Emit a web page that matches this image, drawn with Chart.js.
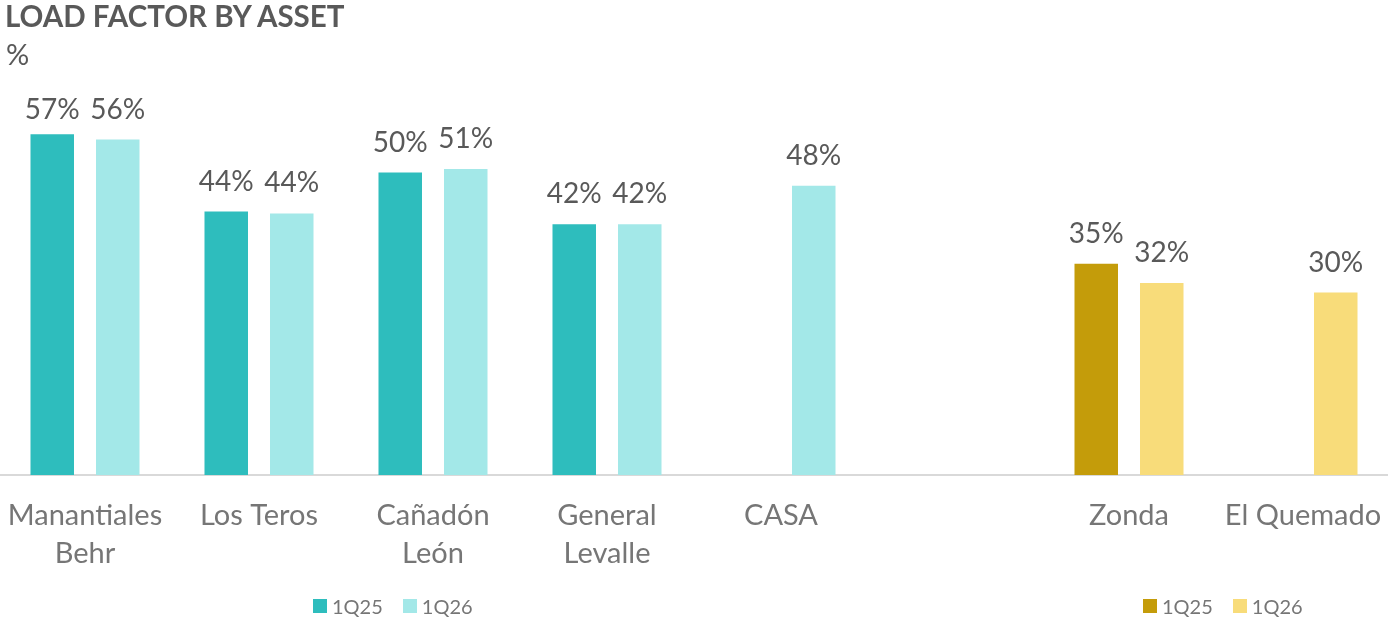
<!DOCTYPE html>
<html>
<head>
<meta charset="utf-8">
<script src="https://cdn.jsdelivr.net/npm/chart.js@4.4.1/dist/chart.umd.min.js"></script>
<style>
  html, body { margin:0; padding:0; background:#fff; width:1388px; height:620px; overflow:hidden; font-family: Lato, "Open Sans", sans-serif; }
  #wrap { position:absolute; left:-2px; top:0; width:1392px; height:620px; }
  #title { position:absolute; left:5px; top:-2px; font-size:29.5px; font-weight:bold; color:#595959; letter-spacing:0; }
  #unit { position:absolute; left:6px; top:36px; font-size:29px; color:#595959; }
  .legend { position:absolute; top:594px; font-size:20px; color:#767676; display:flex; align-items:center; }
  .legend span.sw { display:inline-block; width:14px; height:14px; margin-right:5px; }
  .legend span.tx { margin-right:20px; }
</style>
</head>
<body>
<div id="wrap"><canvas id="c" width="1392" height="620"></canvas></div>
<div id="title">LOAD FACTOR BY ASSET</div>
<div id="unit">%</div>
<div class="legend" id="legL" style="left:313px;"></div>
<div class="legend" id="legR" style="left:1143px;"></div>
<script>
// ---- data ----
const categories = [['Manantiales','Behr'], 'Los Teros', ['Cañadón','León'], ['General','Levalle'], 'CASA', '', 'Zonda', 'El Quemado'];
const assetType = ['wind','wind','wind','wind','wind','none','solar','solar'];
const seriesNames = ['1Q25', '1Q26'];
const values1Q25 = [56.8, 43.9, 50.4, 41.8, null, null, 35.2, null];
const values1Q26 = [55.9, 43.6, 51.0, 41.8, 48.2, null, 32.0, 30.4];

// ---- styles ----
const palette = {
  wind:  ['#2EBDBD', '#A3E8E8'],
  solar: ['#C49C0A', '#F8DC7A'],
  none:  ['#ffffff', '#ffffff']
};
const colors25 = assetType.map(t => palette[t][0]);
const colors26 = assetType.map(t => palette[t][1]);

function buildLegend(id, type) {
  const el = document.getElementById(id);
  seriesNames.forEach((n, i) => {
    const sw = document.createElement('span'); sw.className = 'sw'; sw.style.background = palette[type][i];
    const tx = document.createElement('span'); tx.className = 'tx'; tx.textContent = n;
    el.appendChild(sw); el.appendChild(tx);
  });
}
buildLegend('legL', 'wind');
buildLegend('legR', 'solar');

const valueLabels = {
  id: 'valueLabels',
  afterDatasetsDraw(chart) {
    const ctx = chart.ctx;
    ctx.save();
    ctx.font = '28px Lato, "Open Sans", sans-serif';
    ctx.fillStyle = '#595959';
    ctx.textAlign = 'center';
    ctx.textBaseline = 'alphabetic';
    const minBase = chart.chartArea.top + 64;
    chart.data.datasets.forEach((ds, di) => {
      const meta = chart.getDatasetMeta(di);
      meta.data.forEach((bar, i) => {
        const v = ds.data[i];
        if (v === null || v === undefined) return;
        ctx.fillText(Math.round(v) + '%', bar.x, Math.max(bar.y - 21, minBase));
      });
    });
    ctx.restore();
  }
};

new Chart(document.getElementById('c'), {
  type: 'bar',
  data: {
    labels: categories,
    datasets: [
      { label: seriesNames[0], data: values1Q25, backgroundColor: colors25 },
      { label: seriesNames[1], data: values1Q26, backgroundColor: colors26 }
    ]
  },
  options: {
    responsive: false,
    animation: false,
    devicePixelRatio: 1,
    datasets: { bar: { categoryPercentage: 0.753, barPercentage: 0.664 } },
    layout: { padding: { top: 55, left: 0, right: 0, bottom: 0 } },
    plugins: { legend: { display: false }, tooltip: { enabled: false }, title: { display: false } },
    scales: {
      y: { display: false, min: 0, max: 70 },
      x: {
        grid: { display: false, drawTicks: false },
        border: { display: true, color: '#D9D9D9', width: 2 },
        ticks: { color: '#767676', font: { family: 'Lato, "Open Sans", sans-serif', size: 29, lineHeight: 1.31 }, padding: 22, maxRotation: 0, autoSkip: false },
        afterFit(s) { s.height = 145; s.paddingLeft = 0; s.paddingRight = 0; }
      }
    }
  },
  plugins: [valueLabels]
});
</script>
</body>
</html>
